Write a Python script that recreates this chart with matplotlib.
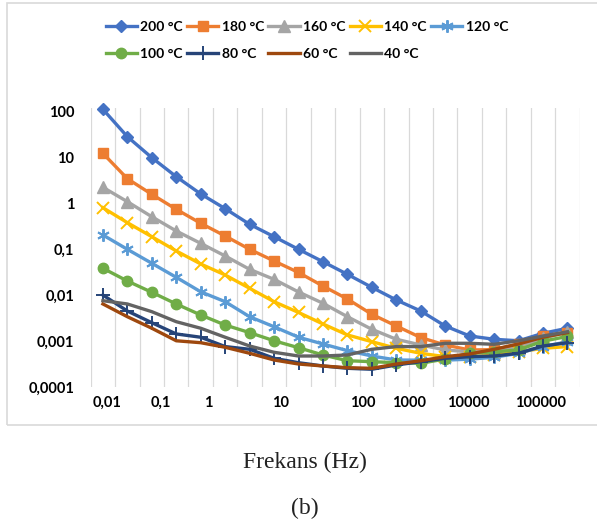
import matplotlib
matplotlib.use("Agg")
import matplotlib.pyplot as plt
import matplotlib.patches as patches

# category positions (20 frequencies, evenly spaced in the chart)
n_points = 20
xpos = list(range(n_points))

t200 = [113, 28.6, 10.0, 3.85, 1.62, 0.775, 0.354, 0.19, 0.101, 0.0543, 0.0288, 0.015,
        0.00796, 0.00458, 0.00216, 0.00131, 0.00111, 0.00103, 0.0015, 0.00193]
t180 = [12.4, 3.48, 1.59, 0.75, 0.372, 0.197, 0.101, 0.0562, 0.0316, 0.016, 0.00836, 0.00388,
        0.00216, 0.00121, 0.000834, 0.00065, 0.00066, 0.000877, 0.00131, 0.00155]
t160 = [2.26, 1.10, 0.517, 0.253, 0.136, 0.0723, 0.037, 0.0224, 0.0119, 0.00675, 0.00344, 0.00183,
        0.00111, 0.000834, 0.00065, 0.00059, 0.00059, 0.00073, 0.00118, 0.0016]
t140 = [0.813, 0.384, 0.19, 0.093, 0.0484, 0.0279, 0.0143, 0.00731, 0.00426, 0.00239, 0.00138, 0.000984,
        0.000706, 0.000549, 0.000464, 0.00046, 0.0005, 0.00059, 0.000706, 0.00077]
t120 = [0.207, 0.101, 0.0501, 0.0248, 0.012, 0.00731, 0.00344, 0.00208, 0.00123, 0.000877, 0.000627, 0.00048,
        0.000393, 0.00039, 0.00039, 0.00041, 0.00045, 0.00055, 0.00077, 0.00098]
t100 = [0.039, 0.0206, 0.0117, 0.00652, 0.00375, 0.00227, 0.00155, 0.00103, 0.000728, 0.000505, 0.000379, 0.000361,
        0.000343, 0.000333, 0.000413, 0.00055, 0.00059, 0.00065, 0.00101, 0.00128]
t80 = [0.0102, 0.00458, 0.00255, 0.00145, 0.00123, 0.00077, 0.000672, 0.000428, 0.000343, 0.000291, 0.000259, 0.000247,
       0.000306, 0.000361, 0.000428, 0.000464, 0.00048, 0.00055, 0.000793, 0.000935]
t60 = [0.00652, 0.00344, 0.00193, 0.00103, 0.000935, 0.000743, 0.00055, 0.000393, 0.000321, 0.000291, 0.000267, 0.000259,
       0.000321, 0.000379, 0.000464, 0.000531, 0.000672, 0.000877, 0.00123, 0.00155]
t40 = [0.00768, 0.00652, 0.00443, 0.00268, 0.00193, 0.00123, 0.000793, 0.000578, 0.00048, 0.00048, 0.000505, 0.000672,
       0.00077, 0.00077, 0.000908, 0.000908, 0.000863, 0.00103, 0.00131, 0.00162]

xlabels = ["0,01", "0,1", "1", "10", "100", "1000", "10000", "100000"]
xlabel_pos = [0.16, 2.37, 4.30, 7.28, 10.62, 12.52, 14.94, 17.91]
yticks = [1e-4, 1e-3, 1e-2, 1e-1, 1, 10, 100]
ylabels = ["0,0001", "0,001", "0,01", "0,1", "1", "10", "100"]

series = [
    ("200 °C", t200, "#4472C4", "D", 6.5),
    ("180 °C", t180, "#ED7D31", "s", 7.5),
    ("160 °C", t160, "#A5A5A5", "^", 8),
    ("140 °C", t140, "#FFC000", "x", 8),
    ("120 °C", t120, "#5B9BD5", (6, 2, 0), 9),
    ("100 °C", t100, "#70AD47", "o", 7.5),
    ("80 °C", t80, "#264478", "+", 10),
    ("60 °C", t60, "#9E480E", None, 0),
    ("40 °C", t40, "#636363", None, 0),
]

tick_font = "Lato"

fig = plt.figure(figsize=(5.97, 5.25), dpi=100)
fig.patches.append(patches.Rectangle((7 / 597, 1 - 425 / 525), 1.0, 422 / 525,
                                     transform=fig.transFigure, fill=False,
                                     edgecolor="#D9D9D9", linewidth=1.2))

ax = fig.add_axes([0.1519, 0.2623, 0.8191, 0.532])
handles = {}
for name, vals, color, mk, ms in series:
    kw = dict(color=color, linewidth=2.4, clip_on=False, label=name)
    if mk is not None:
        kw.update(marker=mk, markersize=ms, markerfacecolor=color, markeredgecolor=color)
        if mk in ("x", "+") or isinstance(mk, tuple):
            kw.update(markeredgewidth=1.4)
    line, = ax.plot(xpos, vals, **kw)
    handles[name] = line

ax.set_yscale("log")
ax.set_ylim(1e-4, 120.5)
ax.set_xlim(-0.5, n_points - 0.5)
ax.set_yticks(yticks)
ax.set_yticklabels(ylabels)
ax.yaxis.set_minor_locator(matplotlib.ticker.NullLocator())
ax.set_xticks(xlabel_pos)
ax.set_xticklabels(xlabels)
ax.set_xticks([i - 0.5 for i in range(n_points + 1)], minor=True)
ax.grid(True, which="minor", axis="x", color="#D9D9D9", linewidth=0.9)
ax.set_axisbelow(True)
ax.tick_params(which="both", length=0)
ax.tick_params(axis="y", pad=12)
ax.tick_params(axis="x", pad=6)
for lab in ax.get_xticklabels() + ax.get_yticklabels():
    lab.set_fontfamily(tick_font)
    lab.set_fontweight("bold")
    lab.set_fontsize(10.5)
for s in ax.spines.values():
    s.set_visible(False)

order = ["200 °C", "100 °C", "180 °C", "80 °C", "160 °C", "60 °C", "140 °C", "40 °C", "120 °C"]
fig.legend([handles[o] for o in order], order, ncol=5, loc="center",
           bbox_to_anchor=(307 / 597, 1 - 40.5 / 525), frameon=False,
           prop={"family": tick_font, "weight": "bold", "size": 10},
           handlelength=2.25, handletextpad=0.25, columnspacing=0.3,
           labelspacing=1.05, borderpad=0)

fig.text(305 / 597, 1 - 462 / 525, "Frekans (Hz)", family="Liberation Serif",
         fontsize=17, ha="center", va="center", color="#222222")
fig.text(305 / 597, 1 - 508 / 525, "(b)", family="Liberation Serif",
         fontsize=17, ha="center", va="center", color="#222222")

fig.savefig("out.png", dpi=100)
